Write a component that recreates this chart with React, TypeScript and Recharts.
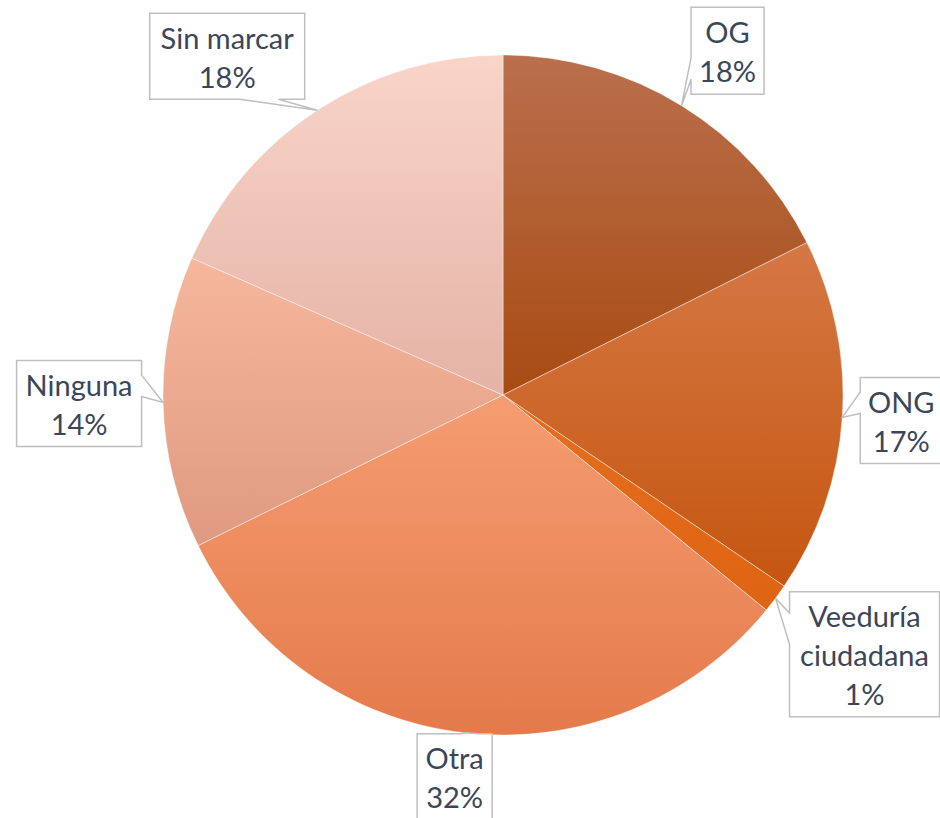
import React from 'react'
import { PieChart, Pie, Cell } from 'recharts'

// data (clockwise from 12 o'clock)
const CATEGORIES = ['OG', 'ONG', 'Veeduría ciudadana', 'Otra', 'Ninguna', 'Sin marcar']
const VALUES = [17.6, 16.9, 1.4, 31.8, 13.9, 18.4]

// top / bottom colour of each slice's vertical gradient
const TOP_COLORS = ['#ba6f4d', '#d57844', '#e46e20', '#f59d71', '#f6b79d', '#f9d4c9']
const BOTTOM_COLORS = ['#a84b12', '#c55610', '#de6412', '#e47a4b', '#df9a81', '#e4b3a5']

// callout box placement: offset of box centre from wedge tip, box size, wedge side
const CALLOUT = {
  'OG': { dx: 46, dy: -55, w: 73, h: 87, side: 'left' },
  'ONG': { dx: 59, dy: 3, w: 82, h: 86, side: 'left' },
  'Veeduría ciudadana': { dx: 89, dy: 56, w: 150, h: 125, side: 'left' },
  'Otra': { dx: -10, dy: 44, w: 75, h: 86, side: 'top' },
  'Ninguna': { dx: -84, dy: 1, w: 125, h: 86, side: 'right' },
  'Sin marcar': { dx: -90, dy: -54, w: 155, h: 86, side: 'bottom' },
}

const data = CATEGORIES.map((name, i) => ({ name, value: VALUES[i] }))

if (typeof document !== 'undefined') document.body.style.margin = '0'

const RAD = Math.PI / 180
const TEXT = '#3b4658'

function calloutPath(x, y, w, h, side, tx, ty) {
  // rectangle drawn clockwise, wedge inserted on one side
  const wedge = (a0, a1, len, proj) => {
    const f = proj < len / 2 ? [0.17, 0.42] : [0.58, 0.83]
    return [a0 + f[0] * len, a0 + f[1] * len].map(v => v)
  }
  let d = `M${x},${y}`
  if (side === 'top') {
    const [b0, b1] = wedge(x, x + w, w, tx - x)
    d += ` L${b0},${y} L${tx},${ty} L${b1},${y}`
  }
  d += ` L${x + w},${y}`
  if (side === 'right') {
    const [b0, b1] = wedge(y, y + h, h, ty - y)
    d += ` L${x + w},${b0} L${tx},${ty} L${x + w},${b1}`
  }
  d += ` L${x + w},${y + h}`
  if (side === 'bottom') {
    const [b0, b1] = wedge(x, x + w, w, tx - x)
    d += ` L${b1},${y + h} L${tx},${ty} L${b0},${y + h}`
  }
  d += ` L${x},${y + h}`
  if (side === 'left') {
    const [b0, b1] = wedge(y, y + h, h, ty - y)
    d += ` L${x},${b1} L${tx},${ty} L${x},${b0}`
  }
  return d + ' Z'
}

const renderLabel = (props) => {
  const { cx, cy, midAngle, outerRadius, name, percent } = props
  const c = CALLOUT[name]
  const tx = cx + outerRadius * Math.cos(-midAngle * RAD)
  const ty = cy + outerRadius * Math.sin(-midAngle * RAD)
  const bx = tx + c.dx - c.w / 2
  const by = ty + c.dy - c.h / 2
  const lines = [...(name.length > 12 ? name.split(' ') : [name]), `${Math.round(percent * 100)}%`]
  const mid = ty + c.dy + 2
  return (
    <g key={name}>
      <path d={calloutPath(bx, by, c.w, c.h, c.side, tx, ty)} fill="#fff" stroke="#bfbfbf" strokeWidth={1.5} />
      {lines.map((t, i) => (
        <text key={i} x={tx + c.dx} y={mid + (i - (lines.length - 1) / 2) * 39 + 10} textAnchor="middle"
          fill={TEXT} fontSize={29} fontFamily="Lato, 'Open Sans', sans-serif">{t}</text>
      ))}
    </g>
  )
}

export default function App() {
  return (
    <div style={{ width: 940, height: 818, background: '#fff' }}>
      <PieChart width={940} height={818} margin={{ top: 0, right: 0, bottom: 0, left: 0 }}>
        <defs>
          {data.map((d, i) => (
            <linearGradient key={i} id={`slice-${i}`} x1="0" y1="0" x2="0" y2="1">
              <stop offset="0%" stopColor={TOP_COLORS[i]} />
              <stop offset="100%" stopColor={BOTTOM_COLORS[i]} />
            </linearGradient>
          ))}
        </defs>
        <Pie data={data} dataKey="value" nameKey="name" cx={503} cy={395} outerRadius={340}
          startAngle={90} endAngle={-270} isAnimationActive={false}
          stroke="#ffffff" strokeWidth={0.6} strokeOpacity={0.7}
          label={renderLabel} labelLine={false}>
          {data.map((d, i) => <Cell key={d.name} fill={`url(#slice-${i})`} />)}
        </Pie>
      </PieChart>
    </div>
  )
}
